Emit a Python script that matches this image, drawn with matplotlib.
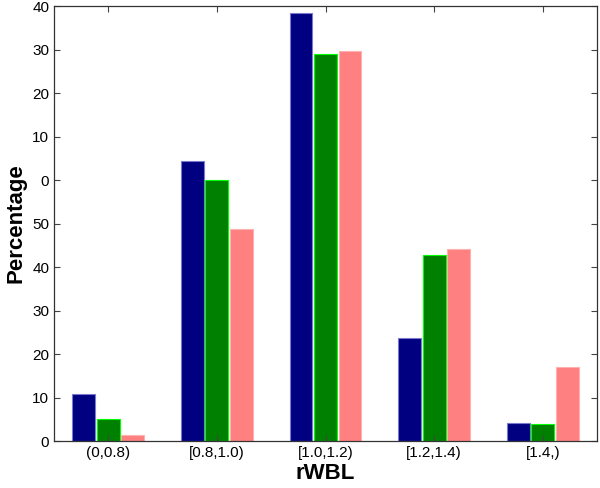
import numpy as np
import matplotlib
matplotlib.use("Agg")
import matplotlib.pyplot as plt

plt.rcParams["font.family"] = ["Liberation Sans", "DejaVu Sans"]

categories = ["(0,0.8)", "[0.8,1.0)", "[1.0,1.2)", "[1.2,1.4)", "[1.4,)"]
series_blue = [10.8, 64.3, 98.3, 23.6, 4.1]
series_green = [5.1, 60.1, 88.9, 42.7, 3.8]
series_pink = [1.4, 48.8, 89.6, 44.2, 17.0]
ytick_values = [0, 10, 20, 30, 40, 50, 60, 70, 80, 90, 100]
ytick_labels = ["0", "10", "20", "30", "40", "50", "0", "10", "20", "30", "40"]

x = np.arange(1, len(categories) + 1)
w = 0.21
off = 0.225

fig = plt.figure(figsize=(6, 4.88), dpi=100)
ax = fig.add_axes([0.09, 0.0963, 0.905, 0.8914])

ax.bar(x - off, series_blue, w, color="#000080", edgecolor="#7a7ad0", linewidth=0.8)
ax.bar(x, series_green, w, color="#008000", edgecolor="#00ff00", linewidth=0.8)
ax.bar(x + off, series_pink, w, color="#ff8080", edgecolor="#ffb0b0", linewidth=0.8)

ax.set_xlim(0.5, 5.5)
ax.set_ylim(0, 100)
ax.set_xticks(x)
ax.set_xticklabels(categories, fontsize=11)
ax.set_yticks(ytick_values)
ax.set_yticklabels(ytick_labels, fontsize=11)
ax.tick_params(direction="in", top=True, right=True, length=4, color="#444444")
for s in ax.spines.values():
    s.set_color("#333333")
    s.set_linewidth(0.9)

ax.set_xlabel("rWBL", fontsize=16, fontweight="bold", labelpad=2)
ax.set_ylabel("Percentage", fontsize=16, fontweight="bold", labelpad=4)

fig.savefig("out.png", dpi=100)
